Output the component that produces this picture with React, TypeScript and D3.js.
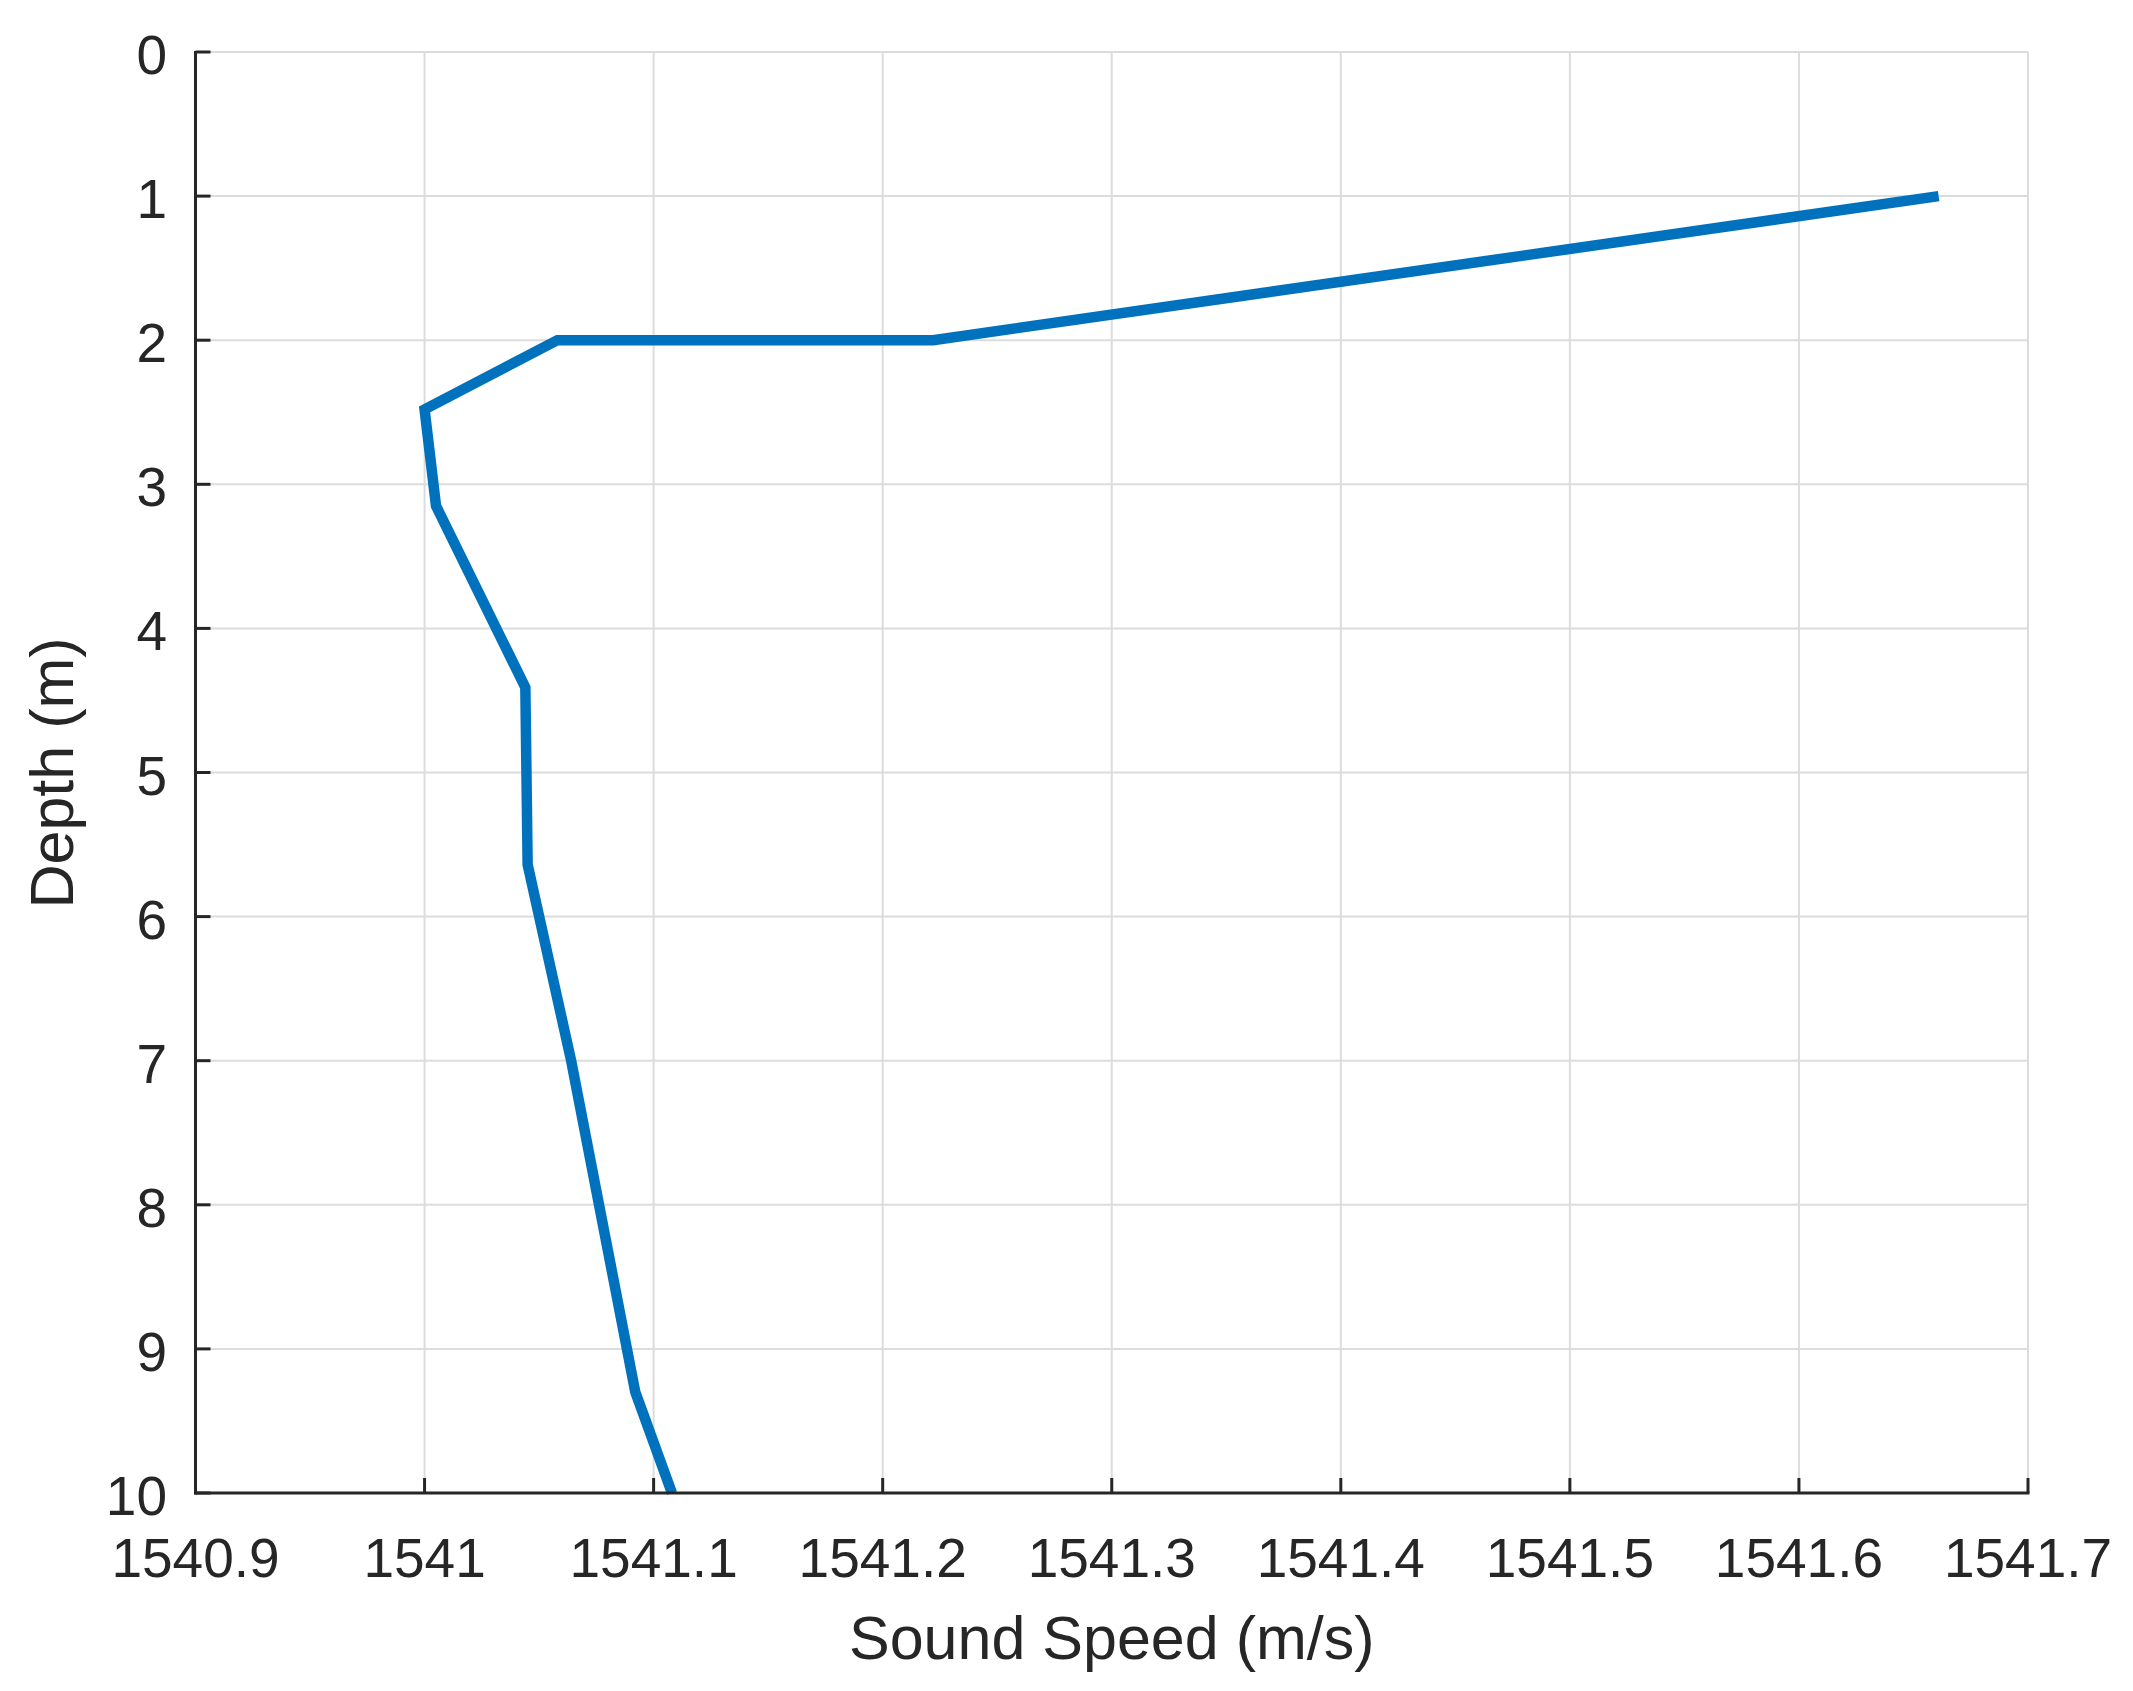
import React from "react";
import * as d3 from "d3";

const depthValues: number[] = [1, 2, 2, 2.48, 3.15, 4.41, 5.64, 7.0, 9.3, 10];
const speedValues: number[] = [1541.661, 1541.222, 1541.058, 1541.0, 1541.005, 1541.044, 1541.045, 1541.064, 1541.092, 1541.108];
const xTicks: number[] = [1540.9, 1541, 1541.1, 1541.2, 1541.3, 1541.4, 1541.5, 1541.6, 1541.7];
const yTicks: number[] = [0, 1, 2, 3, 4, 5, 6, 7, 8, 9, 10];
const xLabel = "Sound Speed (m/s)";
const yLabel = "Depth (m)";

const W = 2133;
const H = 1691;
const M = { left: 195.5, right: 2028, top: 52, bottom: 1493 };
const AXIS = "#262626";
const GRID = "#dcdcdc";
const LINE = "#0072BD";
const FONT = "'Liberation Sans', Arial, Helvetica, sans-serif";

export default function App() {
  const x = d3.scaleLinear().domain([1540.9, 1541.7]).range([M.left, M.right]);
  const y = d3.scaleLinear().domain([0, 10]).range([M.top, M.bottom]);
  const pts = depthValues.map((d, i) => [speedValues[i], d] as [number, number]);
  const line = d3
    .line<[number, number]>()
    .x((p) => x(p[0]))
    .y((p) => y(p[1]));

  return (
    <svg
      width={W}
      height={H}
      style={{ position: "absolute", left: 0, top: 0, background: "#fff" }}
      fontFamily={FONT}
    >
      <rect x={0} y={0} width={W} height={H} fill="#fff" />
      {/* grid */}
      <g stroke={GRID} strokeWidth={2}>
        {xTicks.map((t) => (
          <line key={"gx" + t} x1={x(t)} x2={x(t)} y1={M.top} y2={M.bottom} />
        ))}
        {yTicks.map((t) => (
          <line key={"gy" + t} x1={M.left} x2={M.right} y1={y(t)} y2={y(t)} />
        ))}
      </g>
      {/* data line */}
      <path
        d={line(pts) || ""}
        fill="none"
        stroke={LINE}
        strokeWidth={10.5}
        strokeLinejoin="miter"
        strokeLinecap="butt"
      />
      {/* axes */}
      <g stroke={AXIS} strokeWidth={3} fill="none">
        <line x1={M.left} x2={M.left} y1={M.top - 1} y2={M.bottom + 1.5} />
        <line x1={M.left - 1.5} x2={M.right + 1.5} y1={M.bottom} y2={M.bottom} />
        {xTicks.map((t) => (
          <line key={"tx" + t} x1={x(t)} x2={x(t)} y1={M.bottom} y2={M.bottom - 15} />
        ))}
        {yTicks.map((t) => (
          <line key={"ty" + t} x1={M.left} x2={M.left + 15} y1={y(t)} y2={y(t)} />
        ))}
      </g>
      {/* tick labels */}
      <g fill={AXIS} fontSize={55}>
        {xTicks.map((t) => (
          <text key={"lx" + t} x={x(t)} y={1577} textAnchor="middle">
            {d3.format("~f")(t)}
          </text>
        ))}
        {yTicks.map((t) => (
          <text key={"ly" + t} x={167} y={y(t) + 22} textAnchor="end">
            {t}
          </text>
        ))}
      </g>
      {/* axis labels */}
      <text x={(M.left + M.right) / 2} y={1659} textAnchor="middle" fontSize={61} fill={AXIS}>
        {xLabel}
      </text>
      <text
        transform={`translate(73, 773) rotate(-90)`}
        textAnchor="middle"
        fontSize={61}
        fill={AXIS}
      >
        {yLabel}
      </text>
    </svg>
  );
}
